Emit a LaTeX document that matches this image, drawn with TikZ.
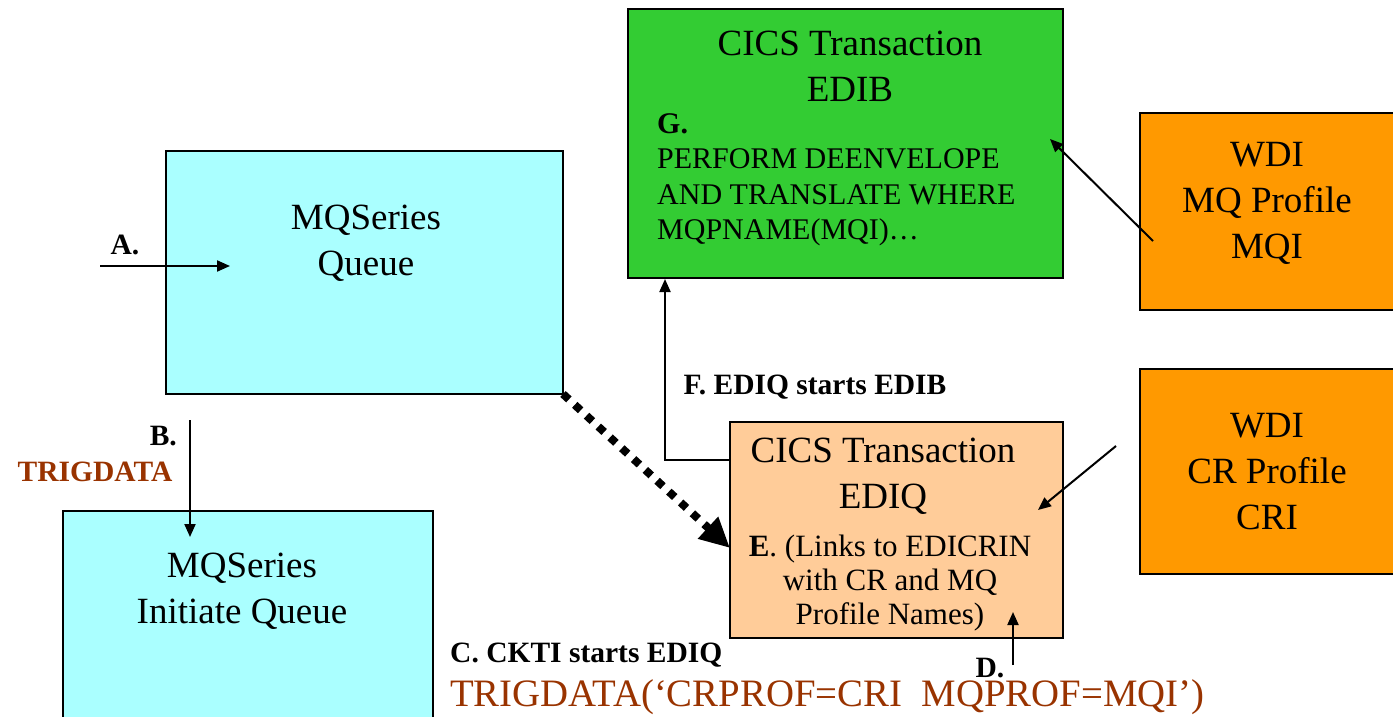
\documentclass[tikz,border=0pt]{standalone}
\usepackage{fontspec}
\setmainfont{Liberation Serif}
\usepackage{tikz}
\usetikzlibrary{arrows.meta,positioning}
\definecolor{qcyan}{RGB}{170,255,255}
\definecolor{cicsgreen}{RGB}{51,204,51}
\definecolor{wdiorange}{RGB}{255,153,0}
\definecolor{peach}{RGB}{255,204,153}
\definecolor{trigbrown}{RGB}{153,51,0}
\begin{document}
\begin{tikzpicture}[x=1pt,y=-1pt,
  box/.style={draw,line width=2.5pt,anchor=north west,inner sep=0pt,outer sep=0pt},
  big/.style={font=\fontsize{37}{46}\selectfont,align=center,inner sep=0pt},
  body/.style={font=\fontsize{30}{35.5}\selectfont,inner sep=0pt},
  lab/.style={font=\fontsize{29.5}{34}\selectfont\bfseries,inner sep=0pt},
  conn/.style={line width=2pt,-{Triangle[length=13pt,width=11pt]}}]
\useasboundingbox (0,0) rectangle (1393,717);
\node[box,fill=qcyan,minimum width=397pt,minimum height=243pt] (mqq) at (166,151) {};
\node[box,fill=qcyan,minimum width=370pt,minimum height=230pt] (initq) at (63,511) {};
\node[box,fill=cicsgreen,minimum width=435pt,minimum height=269pt] (edib) at (628,9) {};
\node[box,fill=wdiorange,minimum width=270pt,minimum height=197pt] (wdimq) at (1140,113) {};
\node[box,fill=wdiorange,minimum width=270pt,minimum height=205pt] (wdicr) at (1140,369) {};
\node[box,fill=peach,minimum width=333pt,minimum height=216pt] (ediq) at (730,422) {};
\node[big] (mqqtxt) at (366,243) {MQSeries\\Queue};
\node[big] (initqtxt) at (242,591) {MQSeries\\Initiate Queue};
\node[big] (edibtxt) at (850,66) {CICS Transaction\\EDIB};
\node[body,align=left,anchor=north west] (edibbody) at (657,113) {\textbf{G.}\\PERFORM DEENVELOPE\\AND TRANSLATE WHERE\\MQPNAME(MQI)\ldots};
\node[big] (wdimqtxt) at (1267,203) {WDI\\MQ Profile\\MQI};
\node[big] (wdicrtxt) at (1267,472) {WDI\\CR Profile\\CRI};
\node[big] (ediqtxt) at (883,476) {CICS Transaction\\EDIQ};
\node[body,align=center,font=\fontsize{31}{34}\selectfont] (ediqbody) at (890,583) {\textbf{E}. (Links to EDICRIN\\with CR and MQ\\Profile Names)};
\node[lab] (alab) at (125,245) {A.};
\node[lab,anchor=east] (blab) at (177,436) {B.};
\node[lab,text=trigbrown] (btrig) at (95,472) {TRIGDATA};
\node[lab] (flab) at (815,387) {F. EDIQ starts EDIB};
\node[lab,anchor=west] (clab) at (450,655) {C. CKTI starts EDIQ};
\node[lab] (dlab) at (990,668) {D.};
\node[font=\fontsize{38.8}{44}\selectfont,text=trigbrown,anchor=west,inner sep=0pt] (trigline) at (450,697) {TRIGDATA(‘CRPROF=CRI~~MQPROF=MQI’)};
\coordinate (a0) at (100,266);
\coordinate (a1) at (230,266);
\coordinate (b0) at (190,420);
\coordinate (b1) at (190,537);
\coordinate (e1) at (730,548);
\coordinate (f0) at (730,460);
\coordinate (f1) at (665,279);
\coordinate (g0) at (1153,241);
\coordinate (g1) at (1050,139);
\coordinate (h0) at (1116,446);
\coordinate (h1) at (1038,510);
\coordinate (d0) at (1013,665);
\coordinate (d1) at (1013,612);
\draw[conn] (a0) -- (a1);
\draw[conn] (b0) -- (b1);
\draw[line width=8pt,dash pattern=on 8pt off 8pt,-{Triangle[length=30pt,width=28pt]}] (mqq.south east) -- (e1);
\draw[conn] (f0) -| (f1);
\draw[conn] (g0) -- (g1);
\draw[conn] (h0) -- (h1);
\draw[conn] (d0) -- (d1);
\end{tikzpicture}
\end{document}
